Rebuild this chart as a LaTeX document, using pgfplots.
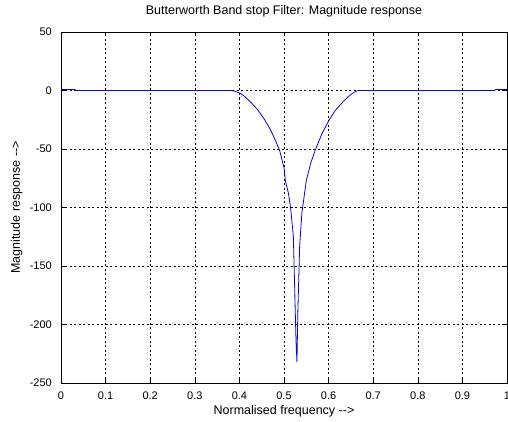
\documentclass[border=0pt]{standalone}
\usepackage{pgfplots}
\pgfplotsset{compat=1.18}
\usetikzlibrary{calc}
\usepackage{fontspec}
\setmainfont{Liberation Sans}
\newfontfamily\nolig{Liberation Sans}

\begin{document}
\begin{tikzpicture}
\begin{axis}[
  scale only axis,
  width=446pt, height=351pt,
  xmin=0, xmax=1, ymin=-250, ymax=50,
  xtick={0,0.1,...,1}, ytick={-250,-200,...,50},
  xticklabels={0,0.1,0.2,0.3,0.4,0.5,0.6,0.7,0.8,0.9,1},
  /pgf/number format/assume math mode=true,
  tick align=inside, major tick length=4pt,
  tick style={black, line width=0.6pt},
  axis line style={black, line width=0.7pt},
  grid=major,
  major grid style={black, line width=0.5pt, dash pattern=on 2pt off 2.5pt},
  font=\nolig\fontsize{11}{13}\selectfont,
  xticklabel style={anchor=base, inner sep=0pt, yshift=-16pt},
  yticklabel style={anchor=east, inner sep=0pt, xshift=-9pt},
  title={Butterworth Band stop Filter: Magnitude response},
  xlabel={Normalised frequency -->},
  ylabel={Magnitude response -->},
  title style={at={(axis description cs:0.5,1.034)}, anchor=base, inner sep=0pt, font=\nolig\fontsize{12.5}{14}\selectfont},
  xlabel style={at={(axis description cs:0.5,-0.091)}, anchor=base, inner sep=0pt, font=\nolig\fontsize{12.5}{14}\selectfont},
  ylabel style={at={(axis description cs:-0.092,0.5)}, anchor=base, inner sep=0pt, font=\nolig\fontsize{12.5}{14}\selectfont},
]
\addplot[blue, line width=0.8pt] coordinates {
  (0,0.8) (0.03,0.8) (0.035,0) (0.38,0) (0.39,-0.6) (0.40,-2) (0.41,-4.5)
  (0.424,-9.4) (0.44,-16) (0.455,-24) (0.469,-33) (0.48,-42) (0.49,-51)
  (0.50,-66) (0.503,-77) (0.51,-88) (0.515,-101) (0.521,-125) (0.525,-185)
  (0.527,-215) (0.529,-232) (0.531,-190) (0.535,-134) (0.540,-105)
  (0.550,-77) (0.56,-62) (0.570,-51) (0.585,-37) (0.60,-26) (0.615,-17)
  (0.633,-9.4) (0.645,-5) (0.655,-2) (0.664,-0.3) (0.67,0) (0.97,0)
  (0.975,0.8) (1,0.8)
};
\end{axis}
\pgfresetboundingbox
\path ($(current axis.south west)+(-61pt,-38pt)$) rectangle ($(current axis.north east)+(1pt,32pt)$);
\end{tikzpicture}
\end{document}
